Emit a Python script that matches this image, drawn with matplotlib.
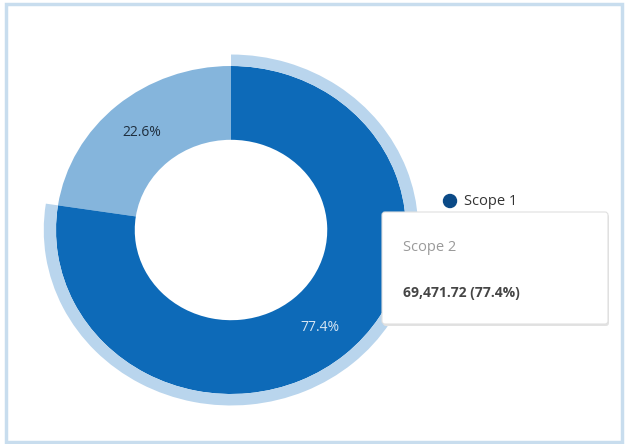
import matplotlib
matplotlib.use("Agg")
import matplotlib.pyplot as plt
from matplotlib.patches import FancyBboxPatch, Rectangle, Circle

plt.rcParams['font.family'] = ['Open Sans', 'DejaVu Sans']

# data
labels = ['Scope 1', 'Scope 2']
shares = [22.6, 77.4]
scope2_value = 69471.72
hovered = 'Scope 2'

slice_colors = ['#85b5dc', '#0d6ab8']
ring_color = '#b9d5ed'
legend_color = '#0b4a87'

W, H = 626, 444
fig = plt.figure(figsize=(W / 100, H / 100), dpi=100)


def pixel_axes(z):
    # transparent overlay in pixel coordinates (origin top-left)
    a = fig.add_axes([0, 0, 1, 1], zorder=z)
    a.set_xlim(0, W)
    a.set_ylim(H, 0)
    a.axis('off')
    a.patch.set_alpha(0)
    return a


bg = pixel_axes(0)
bg.add_patch(Rectangle((6, 4.5), 616, 437.5, fill=False, edgecolor='#c8ddee', linewidth=2.5))

# donut: center (231, 230) px, outer radius 175 px wide x 164 px tall
cx, cy, rx, ry = 231, 230, 175, 164
lim = 1.1
ax = fig.add_axes([(cx - rx * lim) / W, (H - cy - ry * lim) / H,
                   2 * rx * lim / W, 2 * ry * lim / H], zorder=1)
wedges, texts, autotexts = ax.pie(
    shares, colors=slice_colors, startangle=90, counterclock=True,
    radius=1.0, wedgeprops=dict(width=0.45, linewidth=0),
    autopct='%1.1f%%', pctdistance=0.78,
    textprops=dict(fontsize=10))
autotexts[0].set_color('#1f2f3f')
autotexts[1].set_color('#d7e6f3')

# highlight ring around hovered slice
ring_colors = [ring_color if lab == hovered else 'none' for lab in labels]
ax.pie(shares, colors=ring_colors, startangle=90, counterclock=True,
       radius=1.07, wedgeprops=dict(width=0.07, linewidth=0))
ax.set_aspect('auto')
ax.set_xlim(-lim, lim)
ax.set_ylim(-lim, lim)
ax.axis('off')

fg = pixel_axes(2)

# legend entry (partially hidden behind tooltip)
fg.add_patch(Circle((450, 201), 6.5, color=legend_color, zorder=3))
fg.text(464, 201, labels[0], fontsize=10.5, color='#333333', va='center', ha='left', zorder=3)

# tooltip
bx, by, bw, bh = 382, 212, 226, 112
shadow = FancyBboxPatch((bx + 1, by + 2), bw, bh, boxstyle='round,pad=0,rounding_size=3',
                        facecolor='#e2e2e2', edgecolor='none', zorder=4)
box = FancyBboxPatch((bx, by), bw, bh, boxstyle='round,pad=0,rounding_size=3',
                     facecolor='white', edgecolor='#e0e0e0', linewidth=0.8, zorder=5)
fg.add_patch(shadow)
fg.add_patch(box)
idx = labels.index(hovered)
fg.text(403, 247, hovered, fontsize=10.5, color='#9a9a9a', va='center', ha='left', zorder=6)
fg.text(403, 293, f'{scope2_value:,.2f} ({shares[idx]:.1f}%)', fontsize=10,
        fontweight='bold', color='#454545', va='center', ha='left', zorder=6)

fig.savefig('out.png', dpi=100)
